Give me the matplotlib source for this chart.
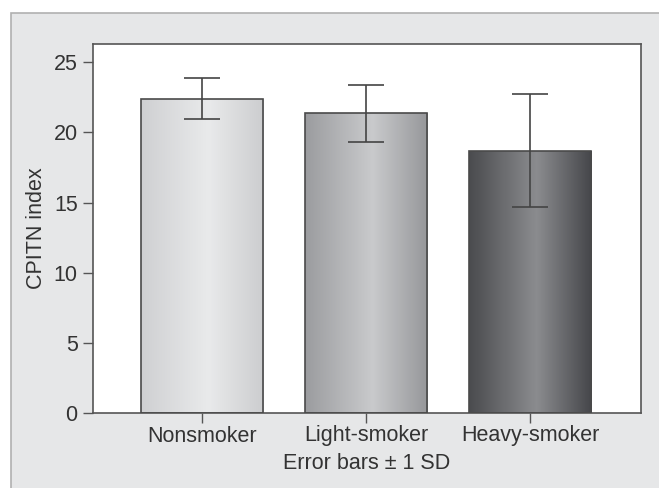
import numpy as np
import matplotlib
matplotlib.use("Agg")
import matplotlib.pyplot as plt
from matplotlib.patches import Rectangle
from matplotlib.colors import LinearSegmentedColormap

# data
groups = ["Nonsmoker", "Light-smoker", "Heavy-smoker"]
means = [22.4, 21.35, 18.7]
sds = [1.45, 2.0, 4.05]

# shading of each bar: left edge, highlight, right edge
shades = [("#cfd0d2", "#e9eaeb", "#cccdcf"),
          ("#9b9c9f", "#c9cacc", "#96979a"),
          ("#4a4b4e", "#8b8c8f", "#45464a")]

plt.rcParams['font.family'] = ['Liberation Sans', 'DejaVu Sans']
txt = "#333333"

fig = plt.figure(figsize=(6.59, 4.88), dpi=100)
fig.patch.set_facecolor("white")
# grey panel behind the chart, runs off the right and bottom edges
fig.patches.append(Rectangle((11 / 659, -0.05), 1.1, 1.05 - 13 / 488, transform=fig.transFigure,
                             facecolor="#e6e7e8", edgecolor="#b0b0b0", lw=1.2, zorder=-1))

ax = fig.add_axes([93 / 659, 75 / 488, 548 / 659, 369 / 488])
ax.set_facecolor("white")

x = np.arange(len(groups))
bars = ax.bar(x, means, width=0.745, facecolor="none", edgecolor="#4a4a4a", lw=1.2, zorder=3)

# cylinder-like gradient inside each bar
t = np.linspace(0, 1, 256).reshape(1, -1)
for b, (c0, c1, c2) in zip(bars, shades):
    cm = LinearSegmentedColormap.from_list("s", [(0, c0), (0.55, c1), (1, c2)])
    bx, by = b.get_x(), b.get_y()
    im = ax.imshow(t, cmap=cm, aspect="auto", extent=(bx, bx + b.get_width(), by, by + b.get_height()),
                   zorder=2, interpolation="bilinear")
    im.set_clip_path(b)

ax.errorbar(x, means, yerr=sds, fmt="none", ecolor="#444444", elinewidth=1.2,
            capsize=13, capthick=1.2, zorder=4)

ax.set_xlim(-0.665, 2.675)
ax.set_ylim(0, 26.3)
ax.set_yticks([0, 5, 10, 15, 20, 25])
ax.set_xticks(x)
ax.set_xticklabels(groups)

for s in ax.spines.values():
    s.set_color("#555555")
    s.set_linewidth(1.2)

ax.tick_params(axis="y", length=7, width=1, color="#555555", labelsize=15.5, labelcolor=txt, pad=4)
ax.tick_params(axis="x", length=7, width=1, color="#555555", labelsize=15.5, labelcolor=txt, pad=2)

ax.set_ylabel("CPITN index", fontsize=15.5, color=txt, labelpad=5)
ax.set_xlabel("Error bars \u00b1 1 SD", fontsize=15.5, color=txt, labelpad=5)

fig.savefig("out.png", dpi=100)
